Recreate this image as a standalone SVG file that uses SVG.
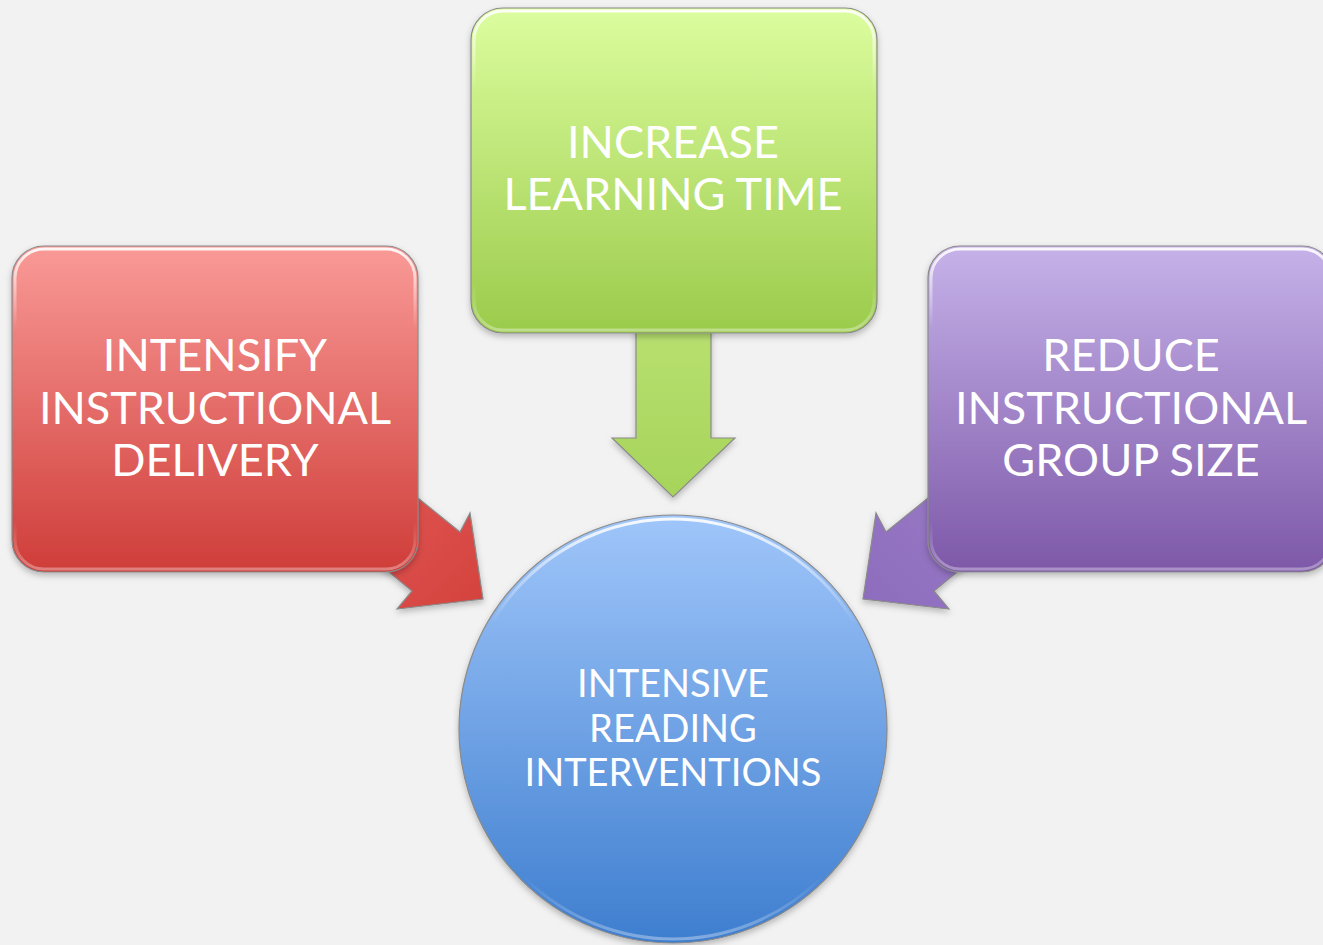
<svg xmlns="http://www.w3.org/2000/svg" width="1323" height="945" viewBox="0 0 1323 945">
<defs>
<style>
.lbl{font-family:Lato,"Liberation Sans",sans-serif;fill:#ffffff;text-anchor:middle;font-size:45px}
.lbl2{font-family:Lato,"Liberation Sans",sans-serif;fill:#ffffff;text-anchor:middle;font-size:38px}
.edge{stroke:#8a8a8a;stroke-width:1.2}
.hl{fill:none;stroke:url(#hlg);stroke-width:3}
</style>
<linearGradient id="gRed" x1="0" y1="0" x2="0" y2="1"><stop offset="0" stop-color="#f99a97"/><stop offset="1" stop-color="#cf3d39"/></linearGradient>
<linearGradient id="gGreen" x1="0" y1="0" x2="0" y2="1"><stop offset="0" stop-color="#dcfd9e"/><stop offset="1" stop-color="#9bcb4c"/></linearGradient>
<linearGradient id="gPurple" x1="0" y1="0" x2="0" y2="1"><stop offset="0" stop-color="#c6b2e9"/><stop offset="1" stop-color="#7d58a8"/></linearGradient>
<linearGradient id="gBlue" x1="0" y1="0" x2="0" y2="1"><stop offset="0" stop-color="#a0c6fa"/><stop offset="1" stop-color="#3e7ecf"/></linearGradient>
<linearGradient id="gRedA" x1="0" y1="0" x2="1" y2="1"><stop offset="0" stop-color="#e25a56"/><stop offset="1" stop-color="#d4423e"/></linearGradient>
<linearGradient id="gGreenA" x1="0" y1="0" x2="0" y2="1"><stop offset="0" stop-color="#b8e070"/><stop offset="1" stop-color="#a6d45a"/></linearGradient>
<linearGradient id="gPurpleA" x1="0" y1="0" x2="1" y2="1"><stop offset="0" stop-color="#9a7cc8"/><stop offset="1" stop-color="#8d6cbd"/></linearGradient>
<linearGradient id="hlg" x1="0" y1="0" x2="0" y2="1"><stop offset="0" stop-color="#ffffff" stop-opacity="0.9"/><stop offset="0.25" stop-color="#ffffff" stop-opacity="0"/><stop offset="0.85" stop-color="#ffffff" stop-opacity="0"/><stop offset="1" stop-color="#ffffff" stop-opacity="0.35"/></linearGradient>
<filter id="sh" x="-10%" y="-10%" width="120%" height="125%"><feDropShadow dx="0" dy="3" stdDeviation="3" flood-color="#000" flood-opacity="0.25"/></filter>
</defs>
<rect width="1323" height="945" fill="#f2f2f2"/>
<g id="connectors">
<polygon id="arrow-green" points="636,325 711,325 711,438 735,438 673,497 612,438 636,438" fill="url(#gGreenA)" class="edge" filter="url(#sh)"/>
<polygon id="arrow-red" points="382,469 460,532 470,513 483,599 397,609 412,591 334,527" fill="url(#gRedA)" class="edge" filter="url(#sh)"/>
<polygon id="arrow-purple" transform="translate(1346,0) scale(-1,1)" points="382,469 460,532 470,513 483,599 397,609 412,591 334,527" fill="url(#gPurpleA)" class="edge" filter="url(#sh)"/>
</g>
<g id="node-green">
<rect x="471" y="8" width="406" height="325" rx="32" fill="url(#gGreen)" class="edge" filter="url(#sh)"/>
<rect x="474" y="11" width="400" height="319" rx="29" class="hl"/>
<text class="lbl" x="673" y="158">INCREASE</text>
<text class="lbl" x="673" y="210">LEARNING TIME</text>
</g>
<g id="node-red">
<rect x="12" y="246" width="406" height="326" rx="32" fill="url(#gRed)" class="edge" filter="url(#sh)"/>
<rect x="15" y="249" width="400" height="320" rx="29" class="hl"/>
<text class="lbl" x="215" y="371">INTENSIFY</text>
<text class="lbl" x="215" y="424">INSTRUCTIONAL</text>
<text class="lbl" x="215" y="476">DELIVERY</text>
</g>
<g id="node-purple">
<rect x="928" y="246" width="406" height="326" rx="32" fill="url(#gPurple)" class="edge" filter="url(#sh)"/>
<rect x="931" y="249" width="400" height="320" rx="29" class="hl"/>
<text class="lbl" x="1131" y="371">REDUCE</text>
<text class="lbl" x="1131" y="424">INSTRUCTIONAL</text>
<text class="lbl" x="1131" y="476">GROUP SIZE</text>
</g>
<g id="node-blue">
<circle cx="673" cy="729" r="214" fill="url(#gBlue)" class="edge" filter="url(#sh)"/>
<circle cx="673" cy="729" r="210" class="hl"/>
<text class="lbl2" x="673" y="697">INTENSIVE</text>
<text class="lbl2" x="673" y="742">READING</text>
<text class="lbl2" x="673" y="786">INTERVENTIONS</text>
</g>
</svg>
